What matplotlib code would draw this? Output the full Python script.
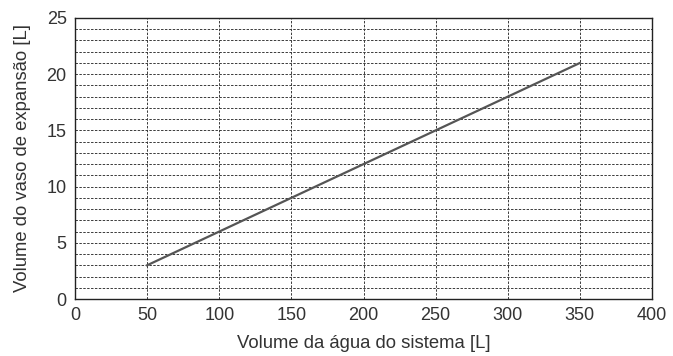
import matplotlib
matplotlib.use("Agg")
import matplotlib.pyplot as plt

x_vals = [50, 350]
y_vals = [3, 21]
x_ticks = [0, 50, 100, 150, 200, 250, 300, 350, 400]
y_ticks = [0, 5, 10, 15, 20, 25]
y_grid = list(range(1, 25))

plt.rcParams['font.family'] = ['Liberation Sans', 'DejaVu Sans']
fig = plt.figure(figsize=(6.73, 3.56), dpi=100)
ax = fig.add_axes([75/673, 1-299/356, (652-75)/673, (299-18)/356])
for yv in y_grid:
    ax.axhline(yv, color='#3a3a3a', lw=0.7, ls=(0, (2.5, 1.5)), zorder=1)
for xv in x_ticks[1:-1]:
    ax.axvline(xv, color='#3a3a3a', lw=0.7, ls=(0, (2.5, 1.5)), zorder=1)
ax.plot(x_vals, y_vals, color='#555555', lw=1.6, zorder=3)
ax.set_xlim(0, 400)
ax.set_ylim(0, 25)
ax.set_xticks(x_ticks)
ax.set_yticks(y_ticks)
ax.tick_params(length=0, labelsize=13, colors='#333333', pad=6)
for s in ax.spines.values():
    s.set_color('#222222')
    s.set_linewidth(1.0)
ax.set_xlabel('Volume da água do sistema [L]', fontsize=13.3, color='#333333', labelpad=8)
ax.set_ylabel('Volume do vaso de expansão [L]', fontsize=13.3, color='#333333', labelpad=11)
fig.savefig('out.png', dpi=100)
